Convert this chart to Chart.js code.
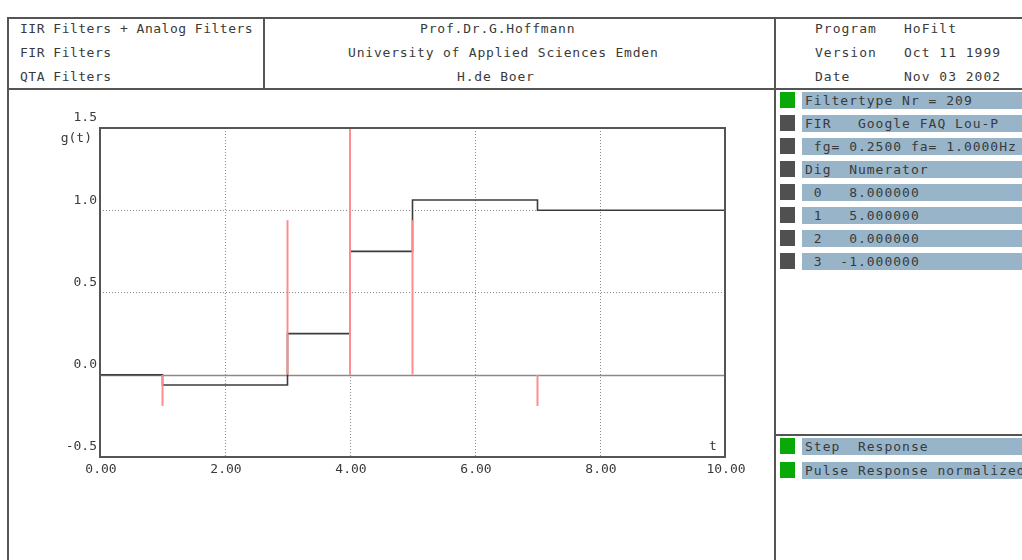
<!DOCTYPE html>
<html>
<head>
<meta charset="utf-8">
<script src="https://cdn.jsdelivr.net/npm/chart.js@4.4.1/dist/chart.umd.min.js"></script>
<style>
  html, body { margin: 0; padding: 0; background: #fff; }
  body { width: 1022px; height: 560px; position: relative; overflow: hidden;
         font-family: "DejaVu Sans Mono", "Liberation Mono", monospace; font-size: 13px; color: #3a3a3a; }
  .ln { position: absolute; background: #555; }
  .t { position: absolute; white-space: pre; letter-spacing: 0.5px; line-height: 16px; }
  .sq { position: absolute; width: 15px; height: 16px; }
  .bar { position: absolute; left: 802px; width: 230px; height: 17px; background: #97b4c9; overflow: hidden; }
  .bar span { position: absolute; left: 3px; top: 0px; line-height: 17px; white-space: pre; letter-spacing: 1px; color: #3a3a3a; }
  #wrap { position: absolute; left: 0; top: 90px; width: 775px; height: 470px; }
</style>
</head>
<body>
<!-- frame lines -->
<div class="ln" style="left:8px;top:17px;width:1014px;height:2px"></div>
<div class="ln" style="left:8px;top:88px;width:1014px;height:2px"></div>
<div class="ln" style="left:7px;top:17px;width:2px;height:543px"></div>
<div class="ln" style="left:263px;top:17px;width:2px;height:72px"></div>
<div class="ln" style="left:774px;top:17px;width:2px;height:543px"></div>
<div class="ln" style="left:775px;top:434px;width:247px;height:2px"></div>

<div id="hdr"></div>
<div id="panel"></div>

<div id="wrap"><canvas id="c" width="775" height="470"></canvas></div>

<script>
// ---------- data ----------
const headerLeft = ["IIR Filters + Analog Filters", "FIR Filters", "QTA Filters"];
const headerMid = ["Prof.Dr.G.Hoffmann", "University of Applied Sciences Emden", "H.de Boer"];
const headerMidX = [420, 348, 457];
const headerRightKeys = ["Program", "Version", "Date"];
const headerRightVals = ["HoFilt", "Oct 11 1999", "Nov 03 2002"];
const panelRows = ["Filtertype Nr = 209", "FIR   Google FAQ Lou-P", " fg= 0.2500 fa= 1.0000Hz", "Dig  Numerator",
                   " 0   8.000000", " 1   5.000000", " 2   0.000000", " 3  -1.000000"];
const panelRowActive = [true, false, false, false, false, false, false, false];
const legendRows = ["Step  Response", "Pulse Response normalized"];

const stepT = [0, 1, 3, 4, 5, 7, 10];
const stepG = [0, -0.0625, 0.25, 0.75, 1.0625, 1.0, 1.0];
const pulseT = [0, 1, 2, 3, 4, 5, 6, 7, 8, 9, 10];
const pulseG = [0, -0.1875, 0, 0.9375, 1.5, 0.9375, 0, -0.1875, 0, 0, 0];
const xTicks = [0, 2, 4, 6, 8, 10];
const yTicks = [-0.5, 0, 0.5, 1.0, 1.5];

// ---------- header & panel (html) ----------
const hdr = document.getElementById('hdr');
const rowY = [21, 45, 69];
function addText(parent, txt, x, y, ls) {
  const d = document.createElement('div'); d.className = 't';
  d.style.left = x + 'px'; d.style.top = y + 'px'; d.style.letterSpacing = ls + 'px';
  d.textContent = txt; parent.appendChild(d);
}
headerLeft.forEach((s, i) => addText(hdr, s, 20, rowY[i], 0.5));
headerMid.forEach((s, i) => addText(hdr, s, headerMidX[i], rowY[i], 0.8));
headerRightKeys.forEach((s, i) => addText(hdr, s, 815, rowY[i], 1));
headerRightVals.forEach((s, i) => addText(hdr, s, 904, rowY[i], 1));

const panel = document.getElementById('panel');
function addRow(txt, y, green) {
  const sq = document.createElement('div'); sq.className = 'sq';
  sq.style.left = '780px'; sq.style.top = y + 'px';
  sq.style.background = green ? '#0aa90a' : '#505050'; panel.appendChild(sq);
  const b = document.createElement('div'); b.className = 'bar'; b.style.top = y + 'px';
  const sp = document.createElement('span'); sp.textContent = txt; b.appendChild(sp); panel.appendChild(b);
}
panelRows.forEach((s, i) => addRow(s, 92 + i * 23, panelRowActive[i]));
legendRows.forEach((s, i) => addRow(s, 438 + i * 23.5, true));

// ---------- chart ----------
const FONT = { family: '"DejaVu Sans Mono", "Liberation Mono", monospace', size: 13 };

const framePlugin = {
  id: 'frame',
  beforeDatasetsDraw(chart) {
    const { ctx, chartArea: a, scales: { x, y } } = chart;
    ctx.save();
    ctx.strokeStyle = '#8a8a8a'; ctx.lineWidth = 1.5;
    const y0 = Math.round(y.getPixelForValue(0)) + 0.5;
    ctx.beginPath(); ctx.moveTo(a.left, y0); ctx.lineTo(a.right, y0); ctx.stroke();
    ctx.restore();
  },
  afterDraw(chart) {
    const { ctx, chartArea: a } = chart;
    ctx.save();
    ctx.strokeStyle = '#555'; ctx.lineWidth = 2;
    ctx.strokeRect(a.left, a.top, a.right - a.left, a.bottom - a.top);
    ctx.fillStyle = '#3a3a3a';
    ctx.font = '13px ' + FONT.family;
    ctx.textBaseline = 'middle';
    ctx.textAlign = 'right';
    ctx.fillText('g(t)', a.left - 8, a.top + 11);
    ctx.textAlign = 'left';
    ctx.fillText('t', a.right - 16, a.bottom - 10);
    ctx.restore();
  }
};

new Chart(document.getElementById('c'), {
  type: 'bar',
  data: {
    datasets: [
      {
        type: 'bar', label: 'Pulse Response normalized',
        data: pulseT.map((t, i) => ({ x: t, y: pulseG[i] })),
        backgroundColor: c => (c.raw && c.raw.y !== 0) ? '#ff8c8c' : 'rgba(0,0,0,0)',
        borderWidth: 0, barThickness: 1.3, order: 1
      },
      {
        type: 'line', label: 'Step Response',
        data: stepT.map((t, i) => ({ x: t, y: stepG[i] })),
        stepped: 'before', borderColor: '#3c3c3c', borderWidth: 1.6, pointRadius: 0, fill: false, order: 2
      }
    ]
  },
  options: {
    responsive: false, animation: false, devicePixelRatio: 1,
    layout: { padding: { left: 0, top: 38, right: 50, bottom: 73 } },
    plugins: { legend: { display: false }, tooltip: { enabled: false } },
    scales: {
      x: {
        type: 'linear', min: 0, max: 10, offset: false,
        afterBuildTicks: s => { s.ticks = xTicks.map(v => ({ value: v })); },
        ticks: { callback: v => v.toFixed(2), font: FONT, color: '#3a3a3a', padding: 5, maxRotation: 0, labelOffset: 1 },
        grid: { offset: false, drawTicks: false, color: ctx => (ctx.tick && ctx.tick.value > 0 && ctx.tick.value < 10) ? '#8a8a8a' : 'rgba(0,0,0,0)', lineWidth: 1 },
        border: { display: false, dash: [1, 2] },
        afterFit: s => { s.height = 30; }
      },
      y: {
        type: 'linear', min: -0.5, max: 1.5,
        afterBuildTicks: s => { s.ticks = yTicks.map(v => ({ value: v })); },
        ticks: { callback: v => v.toFixed(1), font: FONT, color: '#3a3a3a', padding: 3, labelOffset: -10 },
        grid: { drawTicks: false, color: ctx => (ctx.tick && (ctx.tick.value === 0.5 || ctx.tick.value === 1)) ? '#8a8a8a' : 'rgba(0,0,0,0)', lineWidth: 1 },
        border: { display: false, dash: [1, 2] },
        afterFit: s => { s.width = 100; }
      }
    }
  },
  plugins: [framePlugin]
});
</script>
</body>
</html>
